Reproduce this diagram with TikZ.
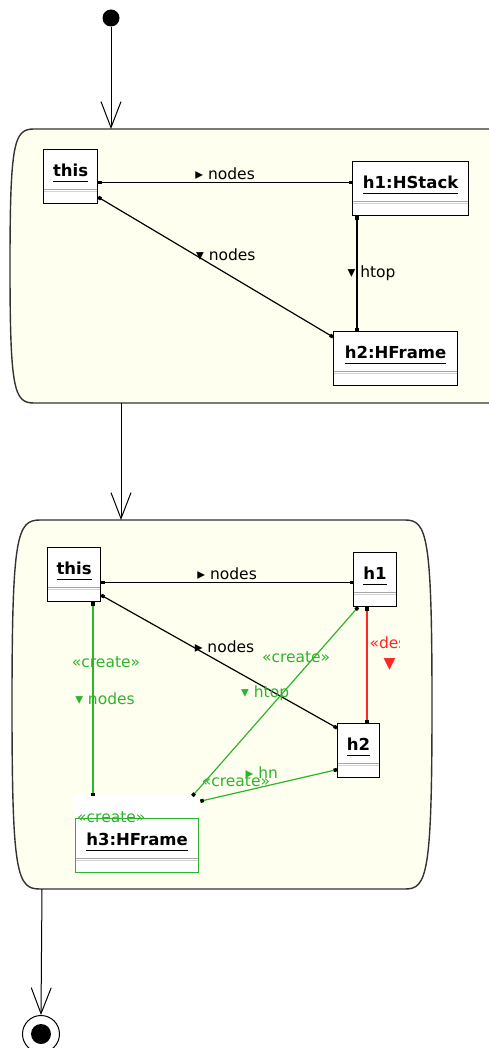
\documentclass[tikz,border=0pt]{standalone}
\usepackage{fontspec}
\setmainfont{DejaVu Sans}
\usepackage{xcolor}
\usetikzlibrary{arrows.meta}

\definecolor{statefill}{HTML}{FFFFF0}
\definecolor{stateline}{HTML}{333333}
\definecolor{creategreen}{HTML}{2DB42D}
\definecolor{destroyred}{HTML}{FF2626}

% bold, underlined object name
\newcommand{\objtitle}[1]{\sbox0{\fontsize{16.5}{19}\selectfont\bfseries #1}\rlap{\usebox0}\rule[-5.5pt]{\wd0}{1.3pt}}

\tikzset{
  state/.style={draw=stateline, line width=1.4pt, fill=statefill},
  objbox/.style={draw, line width=1.2pt, fill=white, inner sep=0pt, anchor=north west,
    minimum height=54pt, text height=27pt, text depth=27pt,
    path picture={
      \draw[gray!70, line width=0.8pt] ([yshift=-39.5pt]path picture bounding box.north west) -- ([yshift=-39.5pt]path picture bounding box.north east);
      \draw[gray!35, line width=0.8pt] ([yshift=-42pt]path picture bounding box.north west) -- ([yshift=-42pt]path picture bounding box.north east);
    }},
  link/.style={line width=1.2pt, arrows={Square[length=3.5pt,width=3.5pt,color=black]-Square[length=3.5pt,width=3.5pt,color=black]}},
  trans/.style={line width=1pt, -{Straight Barb[length=26pt,width=20pt]}},
  lbl/.style={inner sep=1pt},
  glbl/.style={inner sep=1pt, text=creategreen},
}

\begin{document}
\begin{tikzpicture}[x=1pt, y=-1pt, font=\fontsize{15.5}{18}\selectfont]

    \useasboundingbox (0,0) rectangle (488,1048);

    % 1. The two activity states
    \draw[state] (34,129) -- (500,129) -- (500,403) -- (34,403)
        .. controls (14,403) and (10,390) .. (10,266)
        .. controls (10,142) and (14,129) .. (34,129) -- cycle;
    \draw[state] (40,520) -- (405,520)
        .. controls (427,520) and (432,535) .. (432,705)
        .. controls (432,875) and (427,889) .. (405,889) -- (40,889)
        .. controls (17,889) and (12,875) .. (12,705)
        .. controls (12,535) and (17,520) .. (40,520) -- cycle;

    \coordinate (act1in)  at (111,129);
    \coordinate (act1out) at (121,403);
    \coordinate (act2in)  at (121,520);
    \coordinate (act2out) at (42,889);

    % 2. Start and stop
    \node[circle, fill, inner sep=0pt, minimum size=17pt] (init) at (111,18) {};
    \node[circle, draw, line width=1pt, inner sep=0pt, minimum size=37pt] (final) at (41,1034) {};
    \node[circle, fill, inner sep=0pt, minimum size=20pt] (finaldot) at (final.center) {};

    \draw[trans] (init.south) -- (act1in);
    \draw[trans] (act1out) -- (act2in);
    \draw[trans] (act2out) -- (final.north);

    % 3. Objects of the first state
    \node[objbox, minimum width=54pt] (this1) at (43,149) {\objtitle{this}};
    \node[objbox, minimum width=116pt] (h1s) at (352,161) {\objtitle{h1:HStack}};
    \node[objbox, minimum width=124pt] (h2f) at (333,331) {\objtitle{h2:HFrame}};

    \draw[link] ([yshift=-6pt]this1.east) -- node[lbl, above=1pt] {▸ nodes} ([yshift=6pt]h1s.west);
    \draw[link] ([yshift=7pt]this1.south east) -- node[lbl, pos=0.41, anchor=west] {▾ nodes} ([yshift=-6pt]h2f.north west);
    \draw[link] ([xshift=5pt]h1s.south west) -- node[lbl, midway, anchor=west, xshift=-11pt] {▾ htop} ([xshift=24pt]h2f.north west);

    % 4. Objects of the second state
    \node[objbox, minimum width=53pt] (this2) at (47,547) {\objtitle{this}};
    \node[objbox, minimum width=43pt] (h1) at (353,552) {\objtitle{h1}};
    \node[objbox, minimum width=42pt] (h2) at (337,723) {\objtitle{h2}};
    \node[fill=white, inner sep=0pt, anchor=north west, minimum width=124pt, minimum height=22pt] (h3head) at (74,796) {};
    \node[objbox, draw=creategreen, minimum width=123pt] (h3) at (75,818) {\objtitle{h3:HFrame}};
    \node[glbl, anchor=west, inner sep=0pt] (h3stereo) at ([xshift=3pt, yshift=1pt]h3head.south west) {«create»};

    \draw[link] ([yshift=-8pt]this2.east) -- node[lbl, above=1pt] {▸ nodes} ([yshift=-3pt]h1.west);
    \draw[link] ([yshift=7pt]this2.south east) -- node[lbl, pos=0.39, anchor=west] {▸ nodes} ([yshift=-5pt]h2.north west);

    \begin{scope}
        \clip (300,540) rectangle (399.5,740);
        \draw[link, draw=destroyred] ([xshift=14pt]h1.south west)
            -- node[lbl, text=destroyred, pos=0.32, anchor=west, xshift=1pt] {«destroy»}
               node[lbl, text=destroyred, pos=0.49, anchor=west, xshift=15pt] {▼ htop}
            ([xshift=30pt]h2.north west);
    \end{scope}

    % 5. Created links
    \draw[link, draw=creategreen] ([xshift=46pt]this2.south west)
        -- node[glbl, pos=0.31, xshift=13pt] {«create»}
           node[glbl, pos=0.5, xshift=12pt] {▾ nodes}
        ([xshift=19pt]h3head.north west);
    \draw[link, draw=creategreen] ([xshift=-6pt]h3head.north east)
        -- node[glbl, pos=0.738, xshift=-18.5pt] {«create»}
           node[glbl, pos=0.545, xshift=-17.5pt] {▾ htop}
        ([xshift=5pt]h1.south west);
    \draw[link, draw=creategreen] ([xshift=2pt, yshift=6pt]h3head.east)
        -- node[glbl, pos=0.26, yshift=12pt] {«create»}
           node[glbl, pos=0.45, yshift=14pt] {▸ hn}
        ([yshift=-19pt]h2.west);
\end{tikzpicture}
\end{document}
